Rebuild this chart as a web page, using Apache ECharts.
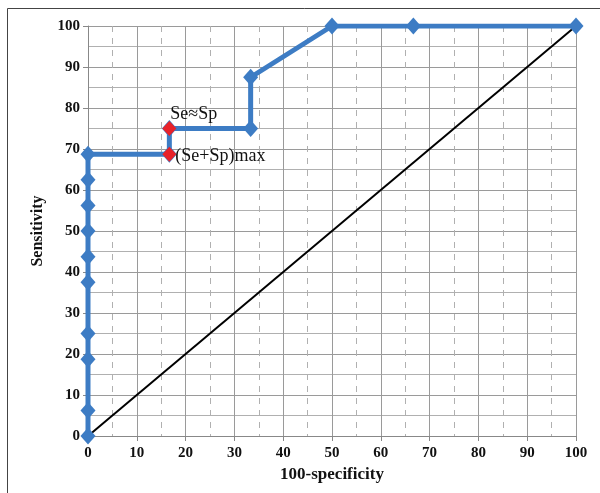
<!DOCTYPE html>
<html>
<head>
<meta charset="utf-8">
<script src="https://cdn.jsdelivr.net/npm/echarts@6/dist/echarts.min.js"></script>
<style>html,body{margin:0;padding:0;background:#fff}#c{width:600px;height:493px}</style>
</head>
<body>
<div id="c"></div>
<script>
const rocX = [0, 0, 0, 0, 0, 0, 0, 0, 0, 0, 16.67, 16.67, 33.33, 33.33, 50, 66.67, 100];
const rocY = [0, 6.25, 18.75, 25, 37.5, 43.75, 50, 56.25, 62.5, 68.75, 68.75, 75, 75, 87.5, 100, 100, 100];
const refX = [0, 100];
const refY = [0, 100];
const highlightX = [16.67, 16.67];
const highlightY = [75, 68.75];
const highlightLabels = ['Se≈Sp', '(Se+Sp)max'];
const xTitle = '100-specificity';
const yTitle = 'Sensitivity';

const chart = echarts.init(document.getElementById('c'), null, {renderer: 'canvas'});
const serif = '"Liberation Serif", "Times New Roman", serif';
const blue = '#3d7cc4';
const red = '#e8222a';

const axisCommon = {
  min: 0, max: 100, interval: 10,
  axisLine: {show: true, lineStyle: {color: '#888', width: 1}},
  axisTick: {show: true, length: 5, lineStyle: {color: '#888'}},
  axisLabel: {fontFamily: serif, fontWeight: 'bold', fontSize: 15, color: '#111'},
  splitLine: {show: true, lineStyle: {color: '#9a9a9a', width: 1}},
  minorTick: {show: false, splitNumber: 2},
};

chart.setOption({
  animation: false,
  graphic: [{
    type: 'rect', shape: {x: 7.5, y: 8.5, width: 620, height: 520},
    style: {fill: 'none', stroke: '#444', lineWidth: 1}, z: -1
  }],
  grid: {left: 88, right: 24, top: 26, bottom: 57},
  xAxis: Object.assign({}, axisCommon, {
    type: 'value',
    name: xTitle, nameLocation: 'middle', nameGap: 30,
    nameTextStyle: {fontFamily: serif, fontWeight: 'bold', fontSize: 17, color: '#111'},
    axisLabel: Object.assign({}, axisCommon.axisLabel, {margin: 10}),
    minorTick: {show: false, splitNumber: 2},
    minorSplitLine: {show: true, lineStyle: {color: '#b0b0b0', width: 1, type: [6, 6]}}
  }),
  yAxis: Object.assign({}, axisCommon, {
    type: 'value',
    name: yTitle, nameLocation: 'middle', nameGap: 42, nameRotate: 90,
    nameTextStyle: {fontFamily: serif, fontWeight: 'bold', fontSize: 16, color: '#111'},
    axisLabel: Object.assign({}, axisCommon.axisLabel, {margin: 8}),
    minorTick: {show: false, splitNumber: 2},
    minorSplitLine: {show: true, lineStyle: {color: '#b0b0b0', width: 1}}
  }),
  series: [
    {
      type: 'line',
      data: refX.map((x, i) => [x, refY[i]]),
      symbol: 'none',
      lineStyle: {color: '#000', width: 2},
      z: 2
    },
    {
      type: 'line',
      data: rocX.map((x, i) => [x, rocY[i]]),
      symbol: 'diamond', symbolSize: [15, 17],
      itemStyle: {color: blue},
      lineStyle: {color: blue, width: 5},
      z: 3
    },
    {
      type: 'scatter',
      data: highlightX.map((x, i) => ({
        value: [x, highlightY[i]],
        label: i === 0
          ? {show: true, formatter: highlightLabels[i], position: 'top', align: 'left', offset: [1, 2], distance: 0}
          : {show: true, formatter: highlightLabels[i], position: 'right', distance: 0, offset: [-1, 2]}
      })),
      symbol: 'diamond', symbolSize: [14, 15],
      itemStyle: {color: red, opacity: 1},
      label: {fontFamily: serif, fontSize: 18, color: '#111'},
      z: 4
    }
  ]
});
</script>
</body>
</html>
